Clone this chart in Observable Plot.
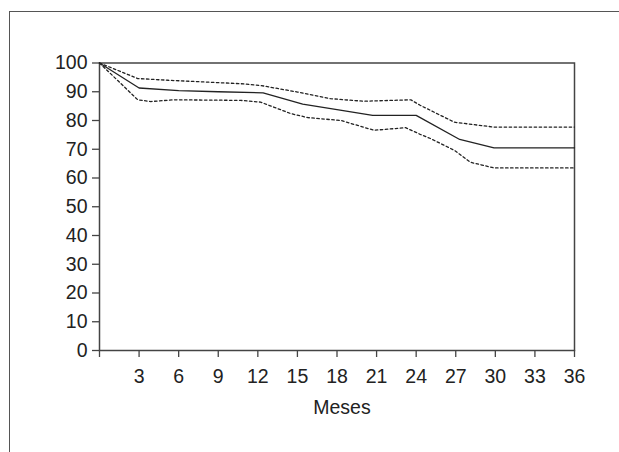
<!DOCTYPE html>
<html>
<head>
<meta charset="utf-8">
<script src="https://cdn.jsdelivr.net/npm/d3@7"></script>
<script src="https://cdn.jsdelivr.net/npm/@observablehq/plot@0.6"></script>
<style>
  html, body { margin: 0; padding: 0; background: #fff; }
  #wrap { position: relative; width: 619px; height: 452px; overflow: hidden; }
  #box { position: absolute; left: 9px; top: 11px; width: 700px; height: 600px;
         border-left: 1.5px solid #555; border-top: 1.5px solid #555; }
  #chart { position: absolute; left: 0; top: 0; }
</style>
</head>
<body>
<div id="wrap"><div id="box"></div><div id="chart"></div></div>
<script>
// Meses (eje X) y porcentajes (eje Y)
const xTicks = [0, 3, 6, 9, 12, 15, 18, 21, 24, 27, 30, 33, 36];
const yTicks = [0, 10, 20, 30, 40, 50, 60, 70, 80, 90, 100];

// Curva de supervivencia (línea continua)
const survMonths = [0, 3, 6, 9, 12.4, 15.4, 18, 20.7, 24, 27.3, 29.9, 36];
const survValues = [100, 91.3, 90.4, 90.0, 89.6, 85.7, 83.8, 81.8, 81.8, 73.4, 70.5, 70.5];

// Intervalo de confianza superior (punteado)
const upperMonths = [0, 2.9, 5.2, 10.7, 12.2, 15, 17.5, 20, 23.6, 24.3, 26.9, 29.9, 36];
const upperValues = [100, 94.6, 94.0, 92.8, 92.2, 89.9, 87.6, 86.7, 87.2, 85.3, 79.4, 77.7, 77.7];

// Intervalo de confianza inferior (punteado)
const lowerMonths = [0, 2.9, 3.9, 5.6, 10.7, 12.2, 14.5, 15.8, 18.3, 20.8, 23.2, 24.3, 25.1, 26.9, 28.1, 29.9, 36];
const lowerValues = [100, 87.2, 86.6, 87.2, 87.0, 86.4, 82.4, 81.0, 80.0, 76.6, 77.5, 75.2, 73.7, 69.6, 65.5, 63.5, 63.5];

const toRows = (xs, ys) => xs.map((x, i) => ({x, y: ys[i]}));
const surv = toRows(survMonths, survValues);
const upper = toRows(upperMonths, upperValues);
const lower = toRows(lowerMonths, lowerValues);

const ink = "#222";
const axisInk = "#444";
const fs = 19.5;

const chart = Plot.plot({
  width: 619,
  height: 452,
  marginLeft: 99,
  marginRight: 45,
  marginTop: 62.5,
  marginBottom: 102,
  style: { fontFamily: "'Liberation Sans', Arial, sans-serif", fontSize: fs + "px", color: "#222", background: "transparent" },
  x: { domain: [0, 36] },
  y: { domain: [0, 100] },
  marks: [
    Plot.frame({ stroke: axisInk, strokeWidth: 1.5 }),
    Plot.axisY({ ticks: yTicks, tickSize: 7, tickPadding: 5, fontSize: fs, label: null, stroke: axisInk, strokeWidth: 1.3, fill: "#222" }),
    Plot.axisX({ ticks: xTicks, tickSize: 7, tickPadding: 12, fontSize: fs, label: null, tickFormat: d => d === 0 ? "" : String(d), stroke: axisInk, strokeWidth: 1.3, fill: "#222" }),
    Plot.line(upper, { x: "x", y: "y", stroke: ink, strokeWidth: 1.3, strokeDasharray: "2.5,2.5" }),
    Plot.line(lower, { x: "x", y: "y", stroke: ink, strokeWidth: 1.3, strokeDasharray: "2.5,2.5" }),
    Plot.line(surv, { x: "x", y: "y", stroke: ink, strokeWidth: 1.3 }),
    Plot.text(["Meses"], { frameAnchor: "bottom", dy: 57, dx: 5, fontSize: fs, text: d => d, fill: "#222", lineAnchor: "middle" })
  ]
});
document.getElementById("chart").appendChild(chart);
</script>
</body>
</html>
